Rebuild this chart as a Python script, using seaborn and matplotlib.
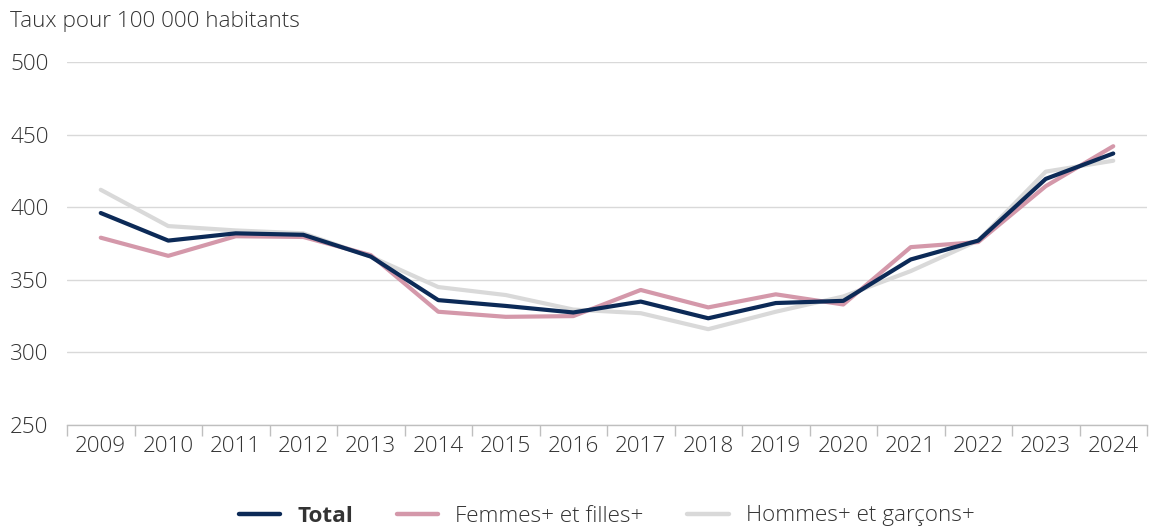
import numpy as np
import pandas as pd
import matplotlib
matplotlib.use("Agg")
import matplotlib.pyplot as plt
from matplotlib.ticker import FixedLocator
from matplotlib.lines import Line2D
import seaborn as sns

years = [2009, 2010, 2011, 2012, 2013, 2014, 2015, 2016,
         2017, 2018, 2019, 2020, 2021, 2022, 2023, 2024]
total = [396, 377, 382, 381, 366, 336, 332, 327.5,
         335, 323.5, 334, 335.5, 364, 377, 419.5, 437]
femmes = [379, 366.5, 380, 379.5, 367, 328, 324.5, 325,
          343, 331, 340, 333, 372.5, 376, 414.5, 442]
hommes = [412, 387, 384, 382, 366, 345, 339.5, 329.5,
          327, 316, 328, 338.5, 356, 377, 424.5, 432]

series_names = ["Total", "Femmes+ et filles+", "Hommes+ et garçons+"]
colors = ["#0c2a57", "#d498aa", "#d9d9d9"]
y_ticks = [250, 300, 350, 400, 450, 500]

df = pd.DataFrame({
    "idx": list(range(len(years))) * 3,
    "taux": total + femmes + hommes,
    "serie": np.repeat(series_names, len(years)),
})

sns.set_theme(style="white")
plt.rcParams["font.family"] = ["Open Sans", "DejaVu Sans"]
plt.rcParams["font.weight"] = "light"

FS = 16.2
TXT = "#333333"

fig = plt.figure(figsize=(11.49, 5.29), dpi=100)
ax = fig.add_axes([67 / 1149, 1 - 425 / 529, (1147 - 67) / 1149, (425 - 62) / 529])

# Total drawn last so it sits on top
order_draw = ["Hommes+ et garçons+", "Femmes+ et filles+", "Total"]
palette = dict(zip(series_names, colors))
sns.lineplot(data=df, x="idx", y="taux", hue="serie", hue_order=order_draw,
             palette=palette, linewidth=3.0, ax=ax, legend=False, sort=False)

ax.set_xlim(-0.5, len(years) - 0.5)
ax.set_ylim(250, 500)
ax.set_xlabel("")
ax.set_ylabel("")

# Year labels centred between boundary ticks
ax.set_xticks(range(len(years)))
ax.set_xticklabels([str(y) for y in years])
ax.xaxis.set_minor_locator(FixedLocator(np.arange(-0.5, len(years), 1.0)))
ax.tick_params(axis="x", which="major", length=0, pad=8, labelsize=FS, labelcolor=TXT)
ax.tick_params(axis="x", which="minor", length=8, width=1, color="#bfbfbf", direction="out", bottom=True)

ax.set_yticks(y_ticks)
ax.tick_params(axis="y", length=0, pad=41, labelsize=FS, labelcolor=TXT)
for lbl in ax.get_yticklabels():
    lbl.set_horizontalalignment("left")

ax.grid(axis="y", color="#d9d9d9", linewidth=1)
ax.grid(axis="x", visible=False)
for side in ["top", "right", "left"]:
    ax.spines[side].set_visible(False)
ax.spines["bottom"].set_color("#bfbfbf")
ax.spines["bottom"].set_linewidth(1)
ax.set_axisbelow(True)

fig.text(10 / 1149, 1 - 21 / 529, "Taux pour 100 000 habitants",
         fontsize=FS, color=TXT, ha="left", va="center")

handles = [Line2D([0], [0], color=c, linewidth=3.2) for c in colors]
leg = fig.legend(handles, series_names, loc="center", bbox_to_anchor=(0.528, 1 - 516 / 529),
                 ncol=3, frameon=False, fontsize=FS, handlelength=1.85,
                 columnspacing=1.95, handletextpad=0.75)
for t in leg.get_texts():
    t.set_color(TXT)
leg.get_texts()[0].set_fontweight("bold")

fig.savefig("out.png", dpi=100)
